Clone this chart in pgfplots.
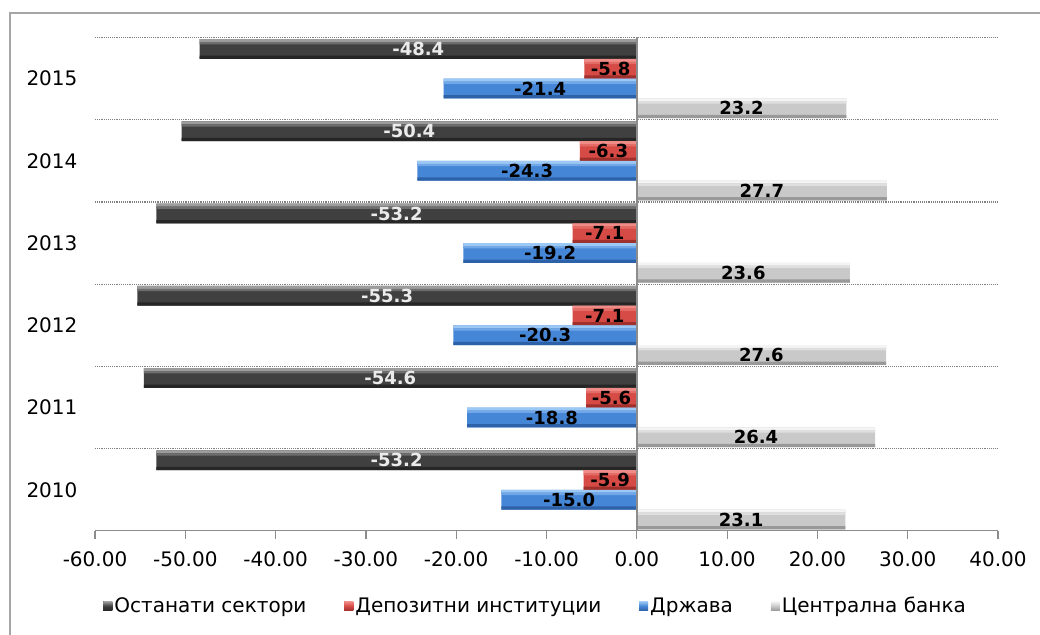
\documentclass[border=0pt]{standalone}
\usepackage{pgfplots}
\pgfplotsset{compat=1.18}
\usepackage{pgfplotstable}
\usepackage{fontspec}
\setmainfont{DejaVu Sans}

\definecolor{osT}{HTML}{9C9C9C}\definecolor{osM}{HTML}{404040}\definecolor{osB}{HTML}{262626}
\definecolor{dpT}{HTML}{F08C88}\definecolor{dpM}{HTML}{D64B46}\definecolor{dpB}{HTML}{A0302C}
\definecolor{drT}{HTML}{9CC8F5}\definecolor{drM}{HTML}{4686D6}\definecolor{drB}{HTML}{2E62A8}
\definecolor{cbT}{HTML}{F4F4F4}\definecolor{cbM}{HTML}{C9C9C9}\definecolor{cbB}{HTML}{999999}
\definecolor{framec}{HTML}{A6A6A6}
\definecolor{axisc}{HTML}{8C8C8C}

\tikzset{
  osbar/.style={top color=osT, bottom color=osB, middle color=osM},
  dpbar/.style={top color=dpT, bottom color=dpB, middle color=dpM},
  drbar/.style={top color=drT, bottom color=drB, middle color=drM},
  cbbar/.style={top color=cbT, bottom color=cbB, middle color=cbM},
}

\pgfplotsset{
  vallabel/.style={forget plot, only marks, mark=none, point meta=explicit,
    nodes near coords={\pgfmathprintnumber[fixed,fixed zerofill,precision=1,assume math mode=true]{\pgfplotspointmeta}},
    every node near coord/.append style={anchor=center, font=\bfseries\fontsize{13.5pt}{15pt}\selectfont, inner sep=0pt, text=#1}},
  strip/.style={forget plot, xbar, draw=none},
}

\pgfplotstableread{
y os dep dr cb
0 -53.2 -5.9 -15.0 23.1
1 -54.6 -5.6 -18.8 26.4
2 -55.3 -7.1 -20.3 27.6
3 -53.2 -7.1 -19.2 23.6
4 -50.4 -6.3 -24.3 27.7
5 -48.4 -5.8 -21.4 23.2
}\data

\begin{document}
\begin{tikzpicture}
\path[use as bounding box] (0pt,0pt) rectangle (780pt,476.25pt);
\draw[color=framec, line width=1.1pt] (7.5pt,-2pt) -- (7.5pt,466.5pt) -- (782pt,466.5pt);
\begin{axis}[
  at={(71.25pt,78pt)}, anchor=south west,
  scale only axis, width=677.25pt, height=370.125pt,
  xmin=-60, xmax=40, ymin=-0.5, ymax=5.5,
  enlargelimits=false,
  axis line style={draw=none},
  xtick={-60,-50,...,40},
  xticklabel={\pgfmathprintnumber[fixed,fixed zerofill,precision=2,assume math mode=true]{\tick}},
  ytick={0,1,2,3,4,5},
  yticklabels={2010,2011,2012,2013,2014,2015},
  minor ytick={0.5,1.5,2.5,3.5,4.5,5.5},
  yminorgrids=true,
  minor grid style={color=gray, densely dotted, line width=0.9pt},
  tick align=outside,
  major tick length=6pt,
  xtick pos=bottom,
  ytick pos=left,
  xtick style={color=axisc, line width=0.9pt},
  ytick style={draw=none},
  minor y tick style={draw=none},
  tick label style={font=\fontsize{15pt}{18pt}\selectfont, text=black},
  xticklabel style={anchor=north, inner sep=0pt, yshift=-9.5pt},
  yticklabel style={anchor=east, inner sep=0pt, xshift=-7pt},
  bar width=0.24,
  legend columns=4,
  legend style={at={(0.488,-0.152)}, anchor=center, draw=none, fill=none,
    font=\fontsize{15pt}{18pt}\selectfont,
    nodes={inner xsep=1.5pt, inner ysep=0pt},
    /tikz/every even column/.append style={column sep=27pt}},
]
% main bars (flat fill)
\addplot[xbar, bar shift=0.36, draw=none, fill=osM,
  legend image code/.code={\path[osbar] (0pt,-3.4pt) rectangle (6.75pt,3.4pt);}]
  table[x=os, y=y] {\data};
\addplot[xbar, bar shift=0.12, draw=none, fill=dpM,
  legend image code/.code={\path[dpbar] (0pt,-3.4pt) rectangle (6.75pt,3.4pt);}]
  table[x=dep, y=y] {\data};
\addplot[xbar, bar shift=-0.12, draw=none, fill=drM,
  legend image code/.code={\path[drbar] (0pt,-3.4pt) rectangle (6.75pt,3.4pt);}]
  table[x=dr, y=y] {\data};
\addplot[xbar, bar shift=-0.36, draw=none, fill=cbM,
  legend image code/.code={\path[cbbar] (0pt,-3.4pt) rectangle (6.75pt,3.4pt);}]
  table[x=cb, y=y] {\data};
\legend{Останати сектори, Депозитни институции, Држава, Централна банка}
% bevel strips: top highlight, soft transition, bottom shade
\addplot[strip, bar width=0.035, bar shift=0.4625, fill=osT] table[x=os, y=y] {\data};
\addplot[strip, bar width=0.03, bar shift=0.43, fill=osT!50!osM] table[x=os, y=y] {\data};
\addplot[strip, bar width=0.04, bar shift=0.26, fill=osB] table[x=os, y=y] {\data};

\addplot[strip, bar width=0.035, bar shift=0.2225, fill=dpT] table[x=dep, y=y] {\data};
\addplot[strip, bar width=0.03, bar shift=0.19, fill=dpT!50!dpM] table[x=dep, y=y] {\data};
\addplot[strip, bar width=0.04, bar shift=0.02, fill=dpB] table[x=dep, y=y] {\data};

\addplot[strip, bar width=0.035, bar shift=-0.0175, fill=drT] table[x=dr, y=y] {\data};
\addplot[strip, bar width=0.03, bar shift=-0.05, fill=drT!50!drM] table[x=dr, y=y] {\data};
\addplot[strip, bar width=0.04, bar shift=-0.22, fill=drB] table[x=dr, y=y] {\data};

\addplot[strip, bar width=0.035, bar shift=-0.2575, fill=cbT] table[x=cb, y=y] {\data};
\addplot[strip, bar width=0.03, bar shift=-0.29, fill=cbT!50!cbM] table[x=cb, y=y] {\data};
\addplot[strip, bar width=0.04, bar shift=-0.46, fill=cbB] table[x=cb, y=y] {\data};
% axis lines
\draw[color=axisc, line width=1.1pt] (axis cs:-60,-0.5) -- (axis cs:40,-0.5);
\draw[color=axisc, line width=1.1pt] (axis cs:0,-0.5) -- (axis cs:0,5.5);
% value labels
\addplot[vallabel=black!8] table[x expr=\thisrow{os}/2, y expr=\thisrow{y}+0.36, meta=os] {\data};
\addplot[vallabel=black] table[x expr=\thisrow{dep}/2, y expr=\thisrow{y}+0.12, meta=dep] {\data};
\addplot[vallabel=black] table[x expr=\thisrow{dr}/2, y expr=\thisrow{y}-0.12, meta=dr] {\data};
\addplot[vallabel=black] table[x expr=\thisrow{cb}/2, y expr=\thisrow{y}-0.36, meta=cb] {\data};
\end{axis}
\end{tikzpicture}
\end{document}
